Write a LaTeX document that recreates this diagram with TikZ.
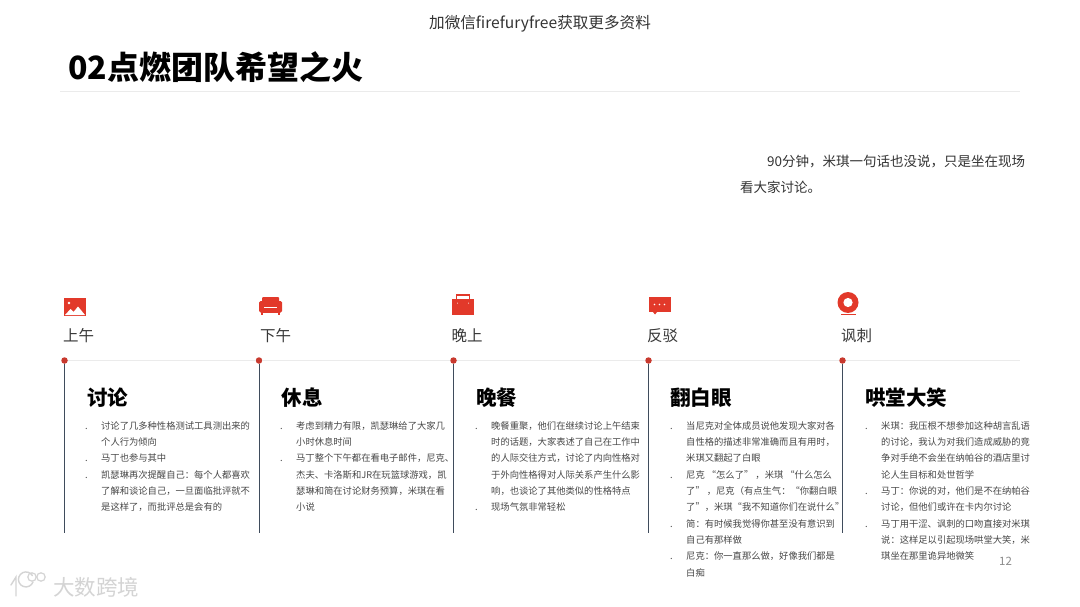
\documentclass[tikz,border=0pt]{standalone}
\usepackage{fontspec}
\setmainfont{Noto Sans CJK SC}
\definecolor{iconred}{HTML}{E2392A}
\definecolor{dotred}{HTML}{C8392E}
\definecolor{stem}{HTML}{3F4C5C}
\newcommand{\bul}{\llap{.\hspace{13.5pt}}}
\newcommand{\dou}{\char"FF0C\relax}
\newcommand{\mao}{\char"FF1A\relax}
\newcommand{\kuo}{\char"FF08\relax}
\tikzset{
  dot/.style={circle,fill=dotred,inner sep=0pt,minimum size=6.5pt},
  stemline/.style={draw=stem,line width=1pt},
  railline/.style={draw=black!8,line width=1pt},
  body/.style={anchor=north west,inner sep=0pt,align=left,text=black!72,font=\fontsize{9.3}{16.35}\selectfont},
  head/.style={anchor=west,inner sep=0pt,text=black,font=\fontsize{20.5}{23}\selectfont\bfseries},
  stamp/.style={anchor=west,inner sep=0pt,text=black!78,font=\fontsize{15.5}{18}\selectfont},
  para/.style={anchor=west,inner sep=0pt,text=black!80,font=\fontsize{13.5}{16}\selectfont},
  icon/.style={fill=iconred,draw=none},
  iconcut/.style={fill=white,draw=none}
}
\begin{document}
\begin{tikzpicture}[x=1pt,y=-1pt]
\useasboundingbox (0,0) rectangle (1080,607);
\fill[white] (0,0) rectangle (1080,607);

% header
\node[inner sep=0pt,text=black!80,font=\fontsize{15.6}{18}\selectfont] (top) at (540,24) {加微信firefuryfree获取更多资料};
\node[anchor=west,inner sep=0pt,text=black,font=\fontsize{32}{36}\selectfont\bfseries] (title) at (68,67) {02点燃团队希望之火};
\coordinate (ruleL) at (60,91.5);
\coordinate (ruleR) at (1020,91.5);
\draw[draw=black!8,line width=.8pt] (ruleL) -- (ruleR);

\node[para] (p1) at (767,162) {90分钟\dou 米琪一句话也没说\dou 只是坐在现场};
\node[para] (p2) at (740,187) {看大家讨论。};

% timeline
\node[dot] (d1) at (64.5,360.5) {};
\node[dot] (d2) at (259,360.5) {};
\node[dot] (d3) at (453.5,360.5) {};
\node[dot] (d4) at (648.5,360.5) {};
\node[dot] (d5) at (842.5,360.5) {};
\coordinate (railend) at (1020,360.5);
\draw[railline] (d1) -- (d2);
\draw[railline] (d2) -- (d3);
\draw[railline] (d3) -- (d4);
\draw[railline] (d4) -- (d5);
\draw[railline] (d5) -- (railend);
\coordinate (e1) at (64.5,533);
\coordinate (e2) at (259,533);
\coordinate (e3) at (453.5,533);
\coordinate (e4) at (648.5,533);
\coordinate (e5) at (842.5,533);
\draw[stemline] (d1) -- (e1);
\draw[stemline] (d2) -- (e2);
\draw[stemline] (d3) -- (e3);
\draw[stemline] (d4) -- (e4);
\draw[stemline] (d5) -- (e5);

% time labels
\node[stamp] (s1) at (63,336) {上午};
\node[stamp] (s2) at (260,336) {下午};
\node[stamp] (s3) at (451.5,336) {晚上};
\node[stamp] (s4) at (647,336) {反驳};
\node[stamp] (s5) at (841,336) {讽刺};

% icon 1: picture
\fill[icon] (64,298) rectangle (86,315.5);
\fill[iconcut] (65,315) -- (70.5,309) -- (73.5,312) -- (78,306.5) -- (85,315) -- cycle;
\fill[iconcut] (69,303) circle (1.3);
% icon 2: sofa
\fill[icon,rounded corners=1pt] (262,297) rectangle (279,308);
\fill[icon,rounded corners=1.5pt] (259,301) rectangle (264,312.5);
\fill[icon,rounded corners=1.5pt] (277,301) rectangle (282,312.5);
\fill[icon] (263,307) rectangle (278,312.5);
\fill[icon] (261,312) rectangle (263,315);
\fill[icon] (278,312) rectangle (280,315);
\draw[white,line width=.6pt] (264,307.5) -- (277,307.5);
% icon 3: bag
\fill[icon] (452,299) rectangle (474,315);
\draw[iconred,line width=1.2pt] (456.5,299) -- (456.5,295) -- (469.5,295) -- (469.5,299);
\fill[iconcut] (457.5,303.2) circle (.5);
\fill[iconcut] (468.5,303.2) circle (.5);
% icon 4: speech bubble
\fill[icon] (648.5,297) rectangle (671,312);
\fill[icon] (653,312) -- (657,312) -- (655,314.5) -- cycle;
\fill[iconcut] (654.5,304.5) circle (.8);
\fill[iconcut] (659.5,304.5) circle (.8);
\fill[iconcut] (664.5,304.5) circle (.8);
% icon 5: webcam
\fill[icon] (848,302.5) circle (10.5);
\fill[iconcut] (848,302.5) circle (4.6);
\fill[icon] (841,313.5) rectangle (856,315);

% headings
\node[head] (h1) at (87,398) {讨论};
\node[head] (h2) at (281.5,398) {休息};
\node[head] (h3) at (476,398) {晚餐};
\node[head] (h4) at (670,398) {翻白眼};
\node[head] (h5) at (865,398) {哄堂大笑};

% bodies
\node[body] (b1) at (101,421) {\bul 讨论了几多种性格测试工具测出来的\\个人行为倾向\\\bul 马丁也参与其中\\\bul 凯瑟琳再次提醒自己\mao 每个人都喜欢\\了解和谈论自己\dou 一旦面临批评就不\\是这样了\dou 而批评总是会有的};
\node[body] (b2) at (296,421) {\bul 考虑到精力有限\dou 凯瑟琳给了大家几\\小时休息时间\\\bul 马丁整个下午都在看电子邮件\dou 尼克、\\杰夫、卡洛斯和JR在玩篮球游戏\dou 凯\\瑟琳和简在讨论财务预算\dou 米琪在看\\小说};
\node[body] (b3) at (491,421) {\bul 晚餐重聚\dou 他们在继续讨论上午结束\\时的话题\dou 大家表述了自己在工作中\\的人际交往方式\dou 讨论了内向性格对\\于外向性格得对人际关系产生什么影\\响\dou 也谈论了其他类似的性格特点\\\bul 现场气氛非常轻松};
\node[body] (b4) at (686,421) {\bul 当尼克对全体成员说他发现大家对各\\自性格的描述非常准确而且有用时\dou\\米琪又翻起了白眼\\\bul 尼克 “怎么了” \dou 米琪 “什么怎么\\了” \dou 尼克\kuo 有点生气\mao “你翻白眼\\了”\dou 米琪“我不知道你们在说什么”\\\bul 简\mao 有时候我觉得你甚至没有意识到\\自己有那样做\\\bul 尼克\mao 你一直那么做\dou 好像我们都是\\白痴};
\node[body] (b5) at (881,421) {\bul 米琪\mao 我压根不想参加这种胡言乱语\\的讨论\dou 我认为对我们造成威胁的竞\\争对手绝不会坐在纳帕谷的酒店里讨\\论人生目标和处世哲学\\\bul 马丁\mao 你说的对\dou 他们是不在纳帕谷\\讨论\dou 但他们或许在卡内尔讨论\\\bul 马丁用干涩、讽刺的口吻直接对米琪\\说\mao 这样足以引起现场哄堂大笑\dou 米\\琪坐在那里诡异地微笑};

% page number
\node[inner sep=0pt,text=black!45,font=\fontsize{11.5}{14}\selectfont] (pg) at (1005.5,561.5) {12};

% watermark
\node[anchor=west,inner sep=0pt,text=black!17,font=\fontsize{21.5}{24}\selectfont] (wm) at (53,587) {大数跨境};
\draw[black!17,line width=1.4pt,line cap=round] (11,585) -- (16,577) -- (16,596);
\draw[black!17,line width=1.4pt,line cap=round] (33,582) arc[start angle=20,end angle=330,radius=7.5];
\draw[black!17,line width=1.2pt] (32,577) circle (4.2);
\draw[black!17,line width=1.2pt] (41,577) circle (4.2);
\end{tikzpicture}
\end{document}
